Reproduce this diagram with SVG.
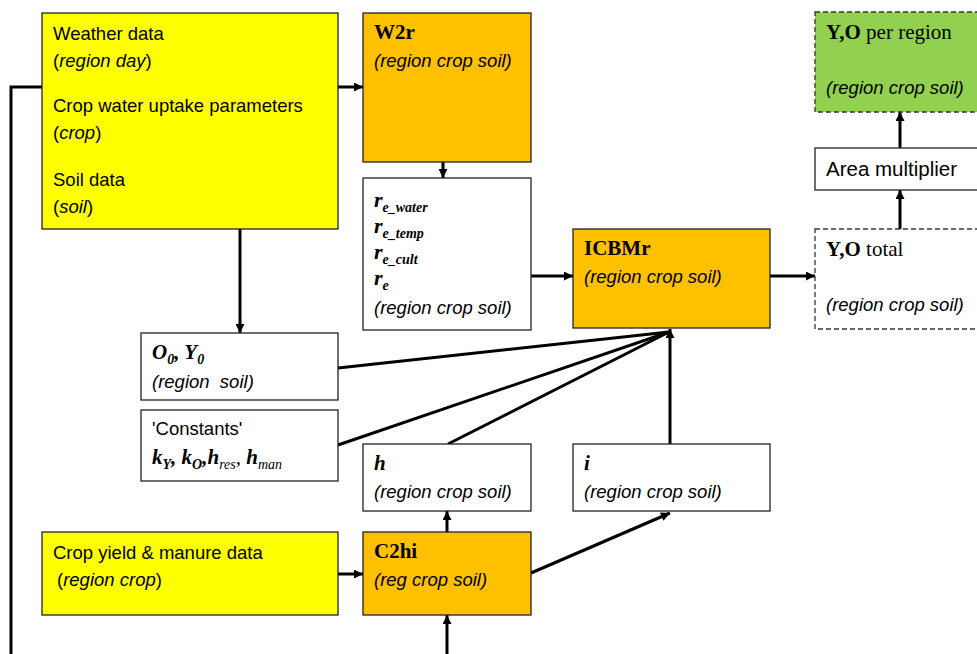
<svg xmlns="http://www.w3.org/2000/svg" width="977" height="654" viewBox="0 0 977 654">
<defs>
<marker id="ah" viewBox="0 0 10 10" refX="10" refY="5" markerWidth="10" markerHeight="9" markerUnits="userSpaceOnUse" orient="auto">
<path d="M0,0 L10,5 L0,10 z" fill="#000"/>
</marker>
<style>
.box{stroke:#222;stroke-width:1.3}
.yel{fill:#FFFF00}
.org{fill:#FFC000}
.wht{fill:#FFFFFF}
.grn{fill:#92D050}
.dash{stroke-dasharray:5,3;stroke:#333}
.a{font-family:"Liberation Sans",Arial,sans-serif;font-size:18.5px;fill:#000}
.it{font-style:italic}
.t{font-family:"Liberation Serif","Times New Roman",serif;font-size:21px;fill:#000}
.b{font-weight:bold}
.sub{font-size:14px}
.con line,.con polyline{stroke:#000;stroke-width:3;fill:none}
</style>
</defs>
<rect width="977" height="654" fill="#fff"/>

<g class="con">
<polyline points="11,654 11,87 42,87"/>
<line x1="338" y1="87" x2="363" y2="87" marker-end="url(#ah)"/>
<line x1="443" y1="162" x2="443" y2="178" marker-end="url(#ah)"/>
<line x1="240" y1="229" x2="240" y2="333" marker-end="url(#ah)"/>
<line x1="531" y1="276" x2="573" y2="276" marker-end="url(#ah)"/>
<line x1="770" y1="276" x2="815" y2="276" marker-end="url(#ah)"/>
<line x1="900" y1="229" x2="900" y2="190" marker-end="url(#ah)"/>
<line x1="900" y1="148" x2="900" y2="112" marker-end="url(#ah)"/>
<line x1="338" y1="368" x2="669" y2="332"/>
<line x1="338" y1="445" x2="669" y2="332"/>
<line x1="448" y1="444" x2="669" y2="332"/>
<line x1="670" y1="444" x2="670" y2="329" marker-end="url(#ah)"/>
<line x1="338" y1="574" x2="363" y2="574" marker-end="url(#ah)"/>
<line x1="447" y1="654" x2="447" y2="615" marker-end="url(#ah)"/>
<line x1="447" y1="532" x2="447" y2="511" marker-end="url(#ah)"/>
<line x1="531" y1="573" x2="670" y2="513" marker-end="url(#ah)"/>
</g>

<g id="inputs">
<rect class="box yel" x="42" y="13" width="296" height="216"/>
<text class="a" x="53" y="40">Weather data</text>
<text class="a" x="53" y="67">(<tspan class="it">region day</tspan>)</text>
<text class="a" x="53" y="112">Crop water uptake parameters</text>
<text class="a" x="53" y="139">(<tspan class="it">crop</tspan>)</text>
<text class="a" x="53" y="186">Soil data</text>
<text class="a" x="53" y="213">(<tspan class="it">soil</tspan>)</text>
</g>

<g id="w2r">
<rect class="box org" x="363" y="13" width="168" height="149"/>
<text class="t b" x="374" y="39">W2r</text>
<text class="a it" x="374" y="67">(region crop soil)</text>
</g>

<g id="re">
<rect class="box wht" x="363" y="178" width="168" height="152"/>
<text class="t b it" x="374" y="207" style="font-size:22px">r<tspan class="sub" dy="5">e_water</tspan></text>
<text class="t b it" x="374" y="233" style="font-size:22px">r<tspan class="sub" dy="5">e_temp</tspan></text>
<text class="t b it" x="374" y="259" style="font-size:22px">r<tspan class="sub" dy="5">e_cult</tspan></text>
<text class="t b it" x="374" y="285" style="font-size:22px">r<tspan class="sub" dy="5">e</tspan></text>
<text class="a it" x="374" y="314">(region crop soil)</text>
</g>

<g id="icbmr">
<rect class="box org" x="573" y="229" width="197" height="99"/>
<text class="t b" x="584" y="255">ICBMr</text>
<text class="a it" x="584" y="283">(region crop soil)</text>
</g>

<g id="yo-total">
<rect class="box wht dash" x="815" y="229" width="170" height="100"/>
<text class="t" x="826" y="256"><tspan class="b">Y,O</tspan> total</text>
<text class="a it" x="826" y="311">(region crop soil)</text>
</g>

<g id="area">
<rect class="box wht" x="815" y="148" width="170" height="42"/>
<text class="a" x="826" y="176" style="font-size:20.5px">Area multiplier</text>
</g>

<g id="yo-region">
<rect class="box grn dash" x="815" y="12" width="170" height="100"/>
<text class="t" x="826" y="39"><tspan class="b">Y,O</tspan> per region</text>
<text class="a it" x="826" y="94">(region crop soil)</text>
</g>

<g id="o0y0">
<rect class="box wht" x="141" y="333" width="197" height="67"/>
<text class="t b it" x="152" y="359">O<tspan class="sub" dy="5">0</tspan><tspan dy="-5">, Y</tspan><tspan class="sub" dy="5">0</tspan></text>
<text class="a it" x="152" y="388" xml:space="preserve">(region  soil)</text>
</g>

<g id="constants">
<rect class="box wht" x="141" y="410" width="197" height="71"/>
<text class="a" x="152" y="435">'Constants'</text>
<text class="t b it" x="152" y="464">k<tspan class="sub" dy="5">Y</tspan><tspan dy="-5">, k</tspan><tspan class="sub" dy="5">O</tspan><tspan dy="-5">,h</tspan><tspan class="sub" dy="5" style="font-weight:normal">res</tspan><tspan dy="-5" style="font-weight:normal">, </tspan><tspan>h</tspan><tspan class="sub" dy="5" style="font-weight:normal">man</tspan></text>
</g>

<g id="h">
<rect class="box wht" x="363" y="444" width="168" height="67"/>
<text class="t b it" x="374" y="470">h</text>
<text class="a it" x="374" y="498">(region crop soil)</text>
</g>

<g id="i">
<rect class="box wht" x="573" y="444" width="197" height="67"/>
<text class="t b it" x="584" y="470">i</text>
<text class="a it" x="584" y="498">(region crop soil)</text>
</g>

<g id="crop-yield">
<rect class="box yel" x="42" y="532" width="296" height="83"/>
<text class="a" x="53" y="559">Crop yield &amp; manure data</text>
<text class="a" x="57" y="586">(<tspan class="it">region crop</tspan>)</text>
</g>

<g id="c2hi">
<rect class="box org" x="363" y="532" width="168" height="83"/>
<text class="t b" x="374" y="558">C2hi</text>
<text class="a it" x="374" y="586">(reg crop soil)</text>
</g>
</svg>
